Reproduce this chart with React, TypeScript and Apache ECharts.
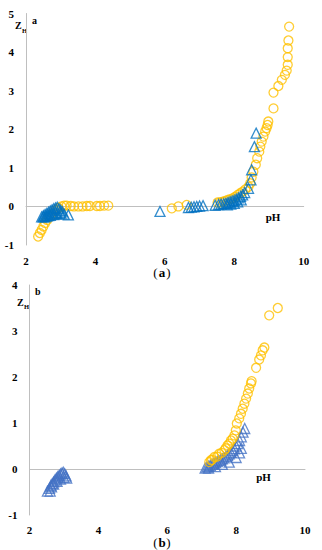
import React, { useEffect, useRef } from "react";
import * as echarts from "echarts";

// ---- Data (pH, Z_H) ----
const circlesA: number[][] = [
  [2.35, -0.78], [2.4, -0.69], [2.45, -0.61], [2.5, -0.52], [2.55, -0.43], [2.61, -0.35],
  [2.69, -0.26], [2.78, -0.17], [2.86, -0.1], [2.94, -0.04], [3.02, 0.0], [3.1, 0.02],
  [3.17, 0.02], [3.29, 0.01], [3.38, 0.0], [3.51, 0.0], [3.63, 0.0], [3.75, 0.01],
  [3.84, 0.01], [4.04, 0.01], [4.13, 0.01], [4.25, 0.02], [4.37, 0.02],
  [6.2, -0.05], [6.39, 0.0], [6.63, 0.04], [7.52, 0.1], [7.6, 0.11], [7.67, 0.12],
  [7.74, 0.14], [7.81, 0.17], [7.88, 0.19], [7.96, 0.21], [8.03, 0.25], [8.1, 0.3],
  [8.17, 0.34], [8.24, 0.38], [8.32, 0.44], [8.41, 0.51], [8.46, 0.6], [8.5, 0.75],
  [8.55, 0.9], [8.62, 1.08], [8.66, 1.25], [8.72, 1.42], [8.75, 1.55], [8.79, 1.68],
  [8.84, 1.81], [8.89, 1.94], [8.93, 2.03], [8.96, 2.11], [8.98, 2.2], [9.13, 2.54],
  [9.13, 2.95], [9.27, 3.12], [9.37, 3.28], [9.46, 3.41], [9.51, 3.52], [9.54, 3.67],
  [9.54, 3.87], [9.54, 4.1], [9.56, 4.3], [9.58, 4.66],
];

const trianglesA: number[][] = [
  [2.45, -0.27], [2.5, -0.24], [2.55, -0.21], [2.6, -0.18], [2.65, -0.15], [2.7, -0.12],
  [2.75, -0.09], [2.8, -0.06], [2.85, -0.04], [2.9, -0.02], [2.5, -0.27], [2.6, -0.25],
  [2.7, -0.23], [2.8, -0.21], [2.9, -0.19], [3.0, -0.17], [3.1, -0.2], [3.22, -0.22],
  [2.95, -0.06], [3.0, -0.1], [3.05, -0.14], [2.55, -0.27], [2.65, -0.24], [2.75, -0.2],
  [2.85, -0.16],
  [5.86, -0.13], [6.68, -0.03], [6.76, -0.02], [6.84, -0.01], [6.92, 0.0], [7.0, 0.01],
  [7.1, 0.02], [7.45, 0.03], [7.55, 0.05], [7.62, 0.06], [7.7, 0.07], [7.76, 0.08],
  [7.82, 0.1], [7.88, 0.12], [7.94, 0.14], [8.0, 0.16], [8.06, 0.19], [8.12, 0.22],
  [8.18, 0.26], [8.24, 0.3], [8.3, 0.36], [7.8, 0.04], [7.9, 0.06], [8.0, 0.08],
  [8.1, 0.12], [8.2, 0.17], [8.41, 0.47], [8.48, 0.69], [8.5, 0.95], [8.58, 1.55],
  [8.63, 1.9],
];

const circlesB: number[][] = [
  [7.22, 0.15], [7.27, 0.19], [7.3, 0.2], [7.37, 0.26], [7.45, 0.27], [7.51, 0.33],
  [7.58, 0.35], [7.66, 0.41], [7.7, 0.45], [7.75, 0.51], [7.8, 0.55], [7.85, 0.62],
  [7.9, 0.66], [7.95, 0.73], [7.99, 0.84], [8.02, 0.99], [8.09, 1.1], [8.14, 1.2],
  [8.19, 1.31], [8.24, 1.42], [8.29, 1.53], [8.34, 1.64], [8.38, 1.75], [8.43, 1.86],
  [8.45, 1.91], [8.58, 2.2], [8.67, 2.38], [8.72, 2.47], [8.77, 2.58], [8.82, 2.64],
  [8.96, 3.34], [9.21, 3.5],
];

const trianglesB: number[][] = [
  [2.52, -0.48], [2.6, -0.48], [2.64, -0.39], [2.58, -0.42], [2.62, -0.36], [2.66, -0.32],
  [2.7, -0.28], [2.74, -0.24], [2.78, -0.2], [2.82, -0.17], [2.86, -0.14], [2.9, -0.11],
  [2.94, -0.09], [2.98, -0.07], [3.02, -0.1], [3.06, -0.15], [3.08, -0.2], [2.7, -0.33],
  [2.8, -0.27], [2.9, -0.22], [3.0, -0.18],
  [7.1, 0.02], [7.15, 0.04], [7.2, 0.06], [7.25, 0.08], [7.3, 0.1], [7.35, 0.12],
  [7.4, 0.14], [7.45, 0.16], [7.5, 0.18], [7.55, 0.2], [7.6, 0.22], [7.65, 0.24],
  [7.7, 0.27], [7.75, 0.3], [7.8, 0.33], [7.85, 0.36], [7.9, 0.4], [7.95, 0.44],
  [8.0, 0.5], [8.05, 0.55], [8.1, 0.62], [8.15, 0.7], [8.2, 0.8], [8.25, 0.88],
  [7.2, 0.02], [7.4, 0.05], [7.6, 0.1], [7.8, 0.15], [8.0, 0.25], [8.1, 0.35], [8.15, 0.45],
];

const xTicks = { min: 2, max: 10, interval: 2 };
const yRangeA = { min: -1, max: 5 };
const yRangeB = { min: -1, max: 4 };

const ORANGE = "#FFC000";
const BLUE_A = "#0070C0";
const BLUE_B = "#4472C4";
const AXIS = "#BFBFBF";
const FONT = "Liberation Serif";

export default function App() {
  const ref = useRef<HTMLDivElement>(null);
  useEffect(() => {
    document.body.style.margin = "0";
    const chart = echarts.init(ref.current!, undefined, { renderer: "svg" });
    const labelStyle = { fontFamily: FONT, fontWeight: "bold" as const, fontSize: 11, color: "#000" };
    const xAxisBase = (gridIndex: number, margin: number) => ({
      type: "value" as const,
      gridIndex,
      ...xTicks,
      axisLine: { onZero: true, lineStyle: { color: AXIS, width: 1 } },
      axisTick: { show: false },
      splitLine: { show: false },
      axisLabel: { ...labelStyle, margin },
    });
    const yAxisBase = (gridIndex: number, r: { min: number; max: number }) => ({
      type: "value" as const,
      gridIndex,
      ...r,
      interval: 1,
      axisLine: { show: true, onZero: false, lineStyle: { color: AXIS, width: 1 } },
      axisTick: { show: false },
      splitLine: { show: false },
      axisLabel: { ...labelStyle, margin: 12 },
    });
    const circle = (data: number[][], idx: number) => ({
      type: "scatter" as const,
      xAxisIndex: idx,
      yAxisIndex: idx,
      data,
      symbol: "circle",
      symbolSize: 9,
      itemStyle: { color: "rgba(0,0,0,0)", borderColor: ORANGE, borderWidth: 1.3 },
    });
    const tri = (data: number[][], idx: number, color: string) => ({
      type: "scatter" as const,
      xAxisIndex: idx,
      yAxisIndex: idx,
      data,
      symbol: "triangle",
      symbolSize: 10,
      itemStyle: { color: "rgba(0,0,0,0)", borderColor: color, borderWidth: 1.3 },
    });
    const txt = (x: number, y: number, text: string, size: number, bold = true, align = "left") => ({
      type: "text" as const,
      x,
      y,
      style: {
        text,
        fontFamily: FONT,
        fontSize: size,
        fontWeight: bold ? "bold" : "normal",
        fill: "#000",
        textAlign: align,
        textVerticalAlign: "middle",
      },
    });
    chart.setOption({
      animation: false,
      grid: [
        { left: 26, top: 13.5, width: 277.7, height: 231.5 },
        { left: 29.5, top: 285, width: 275.5, height: 230 },
      ],
      xAxis: [xAxisBase(0, 10), xAxisBase(1, 9)],
      yAxis: [yAxisBase(0, yRangeA), yAxisBase(1, yRangeB)],
      series: [
        circle(circlesA, 0),
        tri(trianglesA, 0, BLUE_A),
        tri(trianglesB, 1, BLUE_B),
        circle(circlesB, 1),
      ],
      graphic: [
        txt(15, 25, "Z", 10),
        txt(22, 30, "H", 6.5),
        txt(32, 20, "a", 10),
        txt(17, 302, "Z", 10),
        txt(24, 306, "H", 6.5),
        txt(35, 291, "b", 10),
        txt(273, 217, "pH", 11, true, "center"),
        txt(263.5, 477, "pH", 11, true, "center"),
        txt(155.5, 272, "(", 13, false, "center"),
        txt(162, 272, "a", 13, true, "center"),
        txt(168.5, 272, ")", 13, false, "center"),
        txt(155.5, 542, "(", 13, false, "center"),
        txt(162, 542, "b", 13, true, "center"),
        txt(168.5, 542, ")", 13, false, "center"),
      ],
    });
    return () => chart.dispose();
  }, []);
  return <div ref={ref} style={{ width: 322, height: 550 }} />;
}
